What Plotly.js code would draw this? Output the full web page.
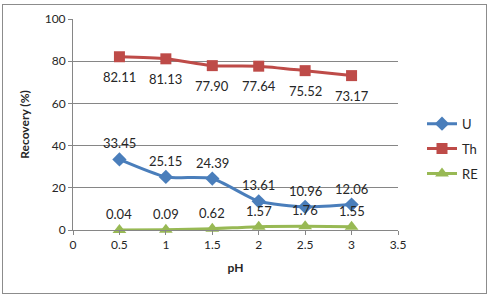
<!DOCTYPE html>
<html>
<head>
<meta charset="utf-8">
<script src="https://cdn.plot.ly/plotly-3.0.1.min.js"></script>
<style>
  html, body { margin: 0; padding: 0; background: #fff; }
  #wrap { position: relative; width: 489px; height: 295px; }
  #chart { position: absolute; left: 0; top: 0; width: 489px; height: 295px; }
  /* chart-area frame */
  #frame {
    position: absolute; left: 2px; top: 4px; width: 483px; height: 288px;
    border: 1px solid #8C8C8C; pointer-events: none;
  }
</style>
</head>
<body>
<div id="wrap">
  <div id="chart"></div>
  <div id="frame"></div>
</div>
<script>
// pH values tested
const pH = [0.5, 1, 1.5, 2, 2.5, 3];
// Recovery (%) for each element group
const uRecovery = [33.45, 25.15, 24.39, 13.61, 10.96, 12.06];
const thRecovery = [82.11, 81.13, 77.90, 77.64, 75.52, 73.17];
const reRecovery = [0.04, 0.09, 0.62, 1.57, 1.76, 1.55];
const seriesNames = ['U', 'Th', 'RE'];
const xTicks = [0, 0.5, 1, 1.5, 2, 2.5, 3, 3.5];
const yTicks = [0, 20, 40, 60, 80, 100];

const FONT = 'Lato, "Open Sans", sans-serif';
const TXT = '#262626';

function series(name, y, color, symbol, size) {
  return {
    x: pH, y: y, name: name, legendgroup: name, type: 'scatter', mode: 'lines+markers',
    line: { color: color, width: 3, shape: 'spline', smoothing: 0.6 },
    marker: { color: color, symbol: symbol, size: size },
    cliponaxis: false
  };
}

const traces = [
  series(seriesNames[0], uRecovery, '#4A7EBB', 'diamond', 11),
  series(seriesNames[1], thRecovery, '#BE4B48', 'square', 11),
  series(seriesNames[2], reRecovery, '#98B954', 'triangle-up', 12)
];

// value labels: U and RE above their points, Th below
const annotations = [];
function addLabels(y, shift) {
  y.forEach((v, i) => annotations.push({
    x: pH[i], y: v, xref: 'x', yref: 'y', text: v.toFixed(2),
    showarrow: false, yshift: shift,
    font: { family: FONT, size: 13, color: TXT }
  }));
}
addLabels(uRecovery, 16);
addLabels(thRecovery, -20);
addLabels(reRecovery, 16);

const layout = {
  width: 489, height: 295,
  margin: { l: 73, r: 91, t: 19, b: 64.5, autoexpand: false },
  paper_bgcolor: '#fff', plot_bgcolor: '#fff',
  font: { family: FONT, size: 12, color: TXT },
  showlegend: true,
  legend: {
    x: (422 - 73) / 325, y: (230.5 - 149) / 211.5, xanchor: 'left', yanchor: 'middle',
    font: { family: FONT, size: 13, color: TXT },
    tracegroupgap: 5, itemwidth: 30, bgcolor: 'rgba(0,0,0,0)'
  },
  xaxis: {
    range: [0, 3.5], tickvals: xTicks, ticktext: xTicks.map(String),
    showgrid: false, zeroline: false, showline: true, linecolor: '#868686',
    ticks: 'outside', ticklen: 4, tickcolor: '#868686',
    tickfont: { family: FONT, size: 12, color: TXT },
    title: { text: '<b>pH</b>', font: { family: FONT, size: 12, color: TXT }, standoff: 12 }
  },
  yaxis: {
    range: [0, 100], tickvals: yTicks,
    showgrid: true, gridcolor: '#868686', gridwidth: 1,
    zeroline: false, showline: true, linecolor: '#868686',
    ticks: 'outside', ticklen: 4, tickcolor: '#868686',
    tickfont: { family: FONT, size: 12, color: TXT },
    title: { text: '<b>Recovery (%)</b>', font: { family: FONT, size: 12, color: TXT }, standoff: 12 }
  },
  annotations: annotations
};

Plotly.newPlot('chart', traces, layout, { staticPlot: true, displayModeBar: false });
</script>
</body>
</html>
